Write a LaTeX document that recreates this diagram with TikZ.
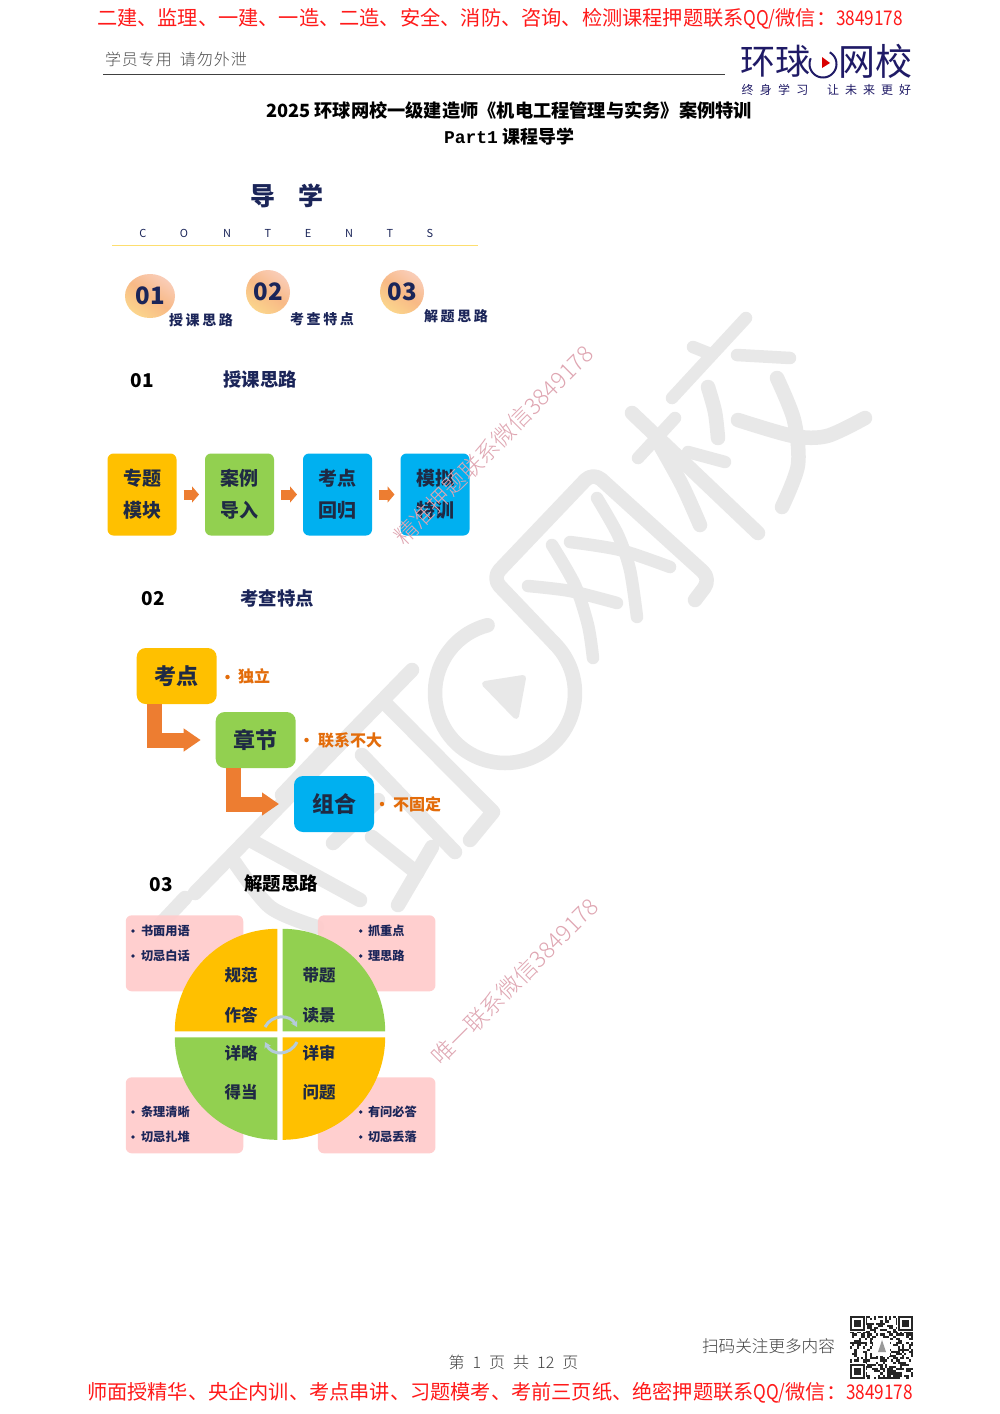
\documentclass[tikz,border=0pt]{standalone}
\usepackage{fontspec}
\usepackage{graphicx}
\usetikzlibrary{arrows.meta,shapes.geometric,calc}
\setmainfont{Noto Sans CJK SC}
\newfontfamily\lightcjk{Noto Sans CJK SC Light}
\newfontfamily\latn{Liberation Mono}
\definecolor{navy}{HTML}{1B2559}
\definecolor{logonavy}{HTML}{1F1A66}
\definecolor{ink}{HTML}{1F2A44}
\definecolor{redtxt}{HTML}{FF1A1A}
\definecolor{wmgray}{HTML}{E8E8E8}
\definecolor{wmpink}{HTML}{DFA6B2}
\definecolor{yel}{HTML}{FFC000}
\definecolor{grn}{HTML}{92D050}
\definecolor{blu}{HTML}{00B0F0}
\definecolor{org}{HTML}{ED7D31}
\definecolor{orgt}{HTML}{E36C0A}
\definecolor{pinkbox}{HTML}{FFCCCC}
\definecolor{swirl}{HTML}{B5CBDC}
\definecolor{ballA}{HTML}{F9CDB8}
\definecolor{ballB}{HTML}{F8B986}
\definecolor{ballC}{HTML}{FBD58C}
\newcommand{\fs}[1]{\fontsize{#1}{#1}\selectfont}
\newcommand{\lat}[1]{\scalebox{0.85}[1]{#1}}
\tikzset{
  lbl/.style={inner sep=0pt,outer sep=0pt},
  wm/.style={draw=wmgray,line width=14.5pt,line cap=round,line join=round},
  wmthin/.style={wm,line width=12.5pt},
  flowbox/.style={lbl,rounded corners=6pt,minimum width=69pt,minimum height=82pt,align=center,text=ink,font=\fontsize{19}{32}\selectfont\bfseries},
  stepbox/.style={lbl,rounded corners=9pt,minimum width=80pt,minimum height=56pt,text=ink,font=\fs{22}\bfseries},
  smallarrow/.style={draw=org,line width=10pt,-{Triangle[width=16pt,length=7pt]},shorten <=7pt,shorten >=6pt},
  elbow/.style={draw=org,line width=15pt,line join=miter,-{Triangle[width=22pt,length=17pt]},shorten >=15pt},
  note/.style={lbl,text=orgt,font=\fs{16}\bfseries,anchor=west},
  dotmark/.style={circle,inner sep=0pt,minimum size=4.5pt},
  pinkpanel/.style={lbl,fill=pinkbox,fill opacity=.93,rounded corners=6pt,minimum width=117.5pt,minimum height=76pt},
  pietxt/.style={lbl,text=ink,font=\fs{16.5}\bfseries},
  itemtxt/.style={lbl,text=navy,font=\fs{12.2}\bfseries,anchor=west},
  section/.style={lbl,font=\fs{18.4}\bfseries,text=navy},
  secnum/.style={lbl,font=\fs{19}\bfseries,text=black},
  ctt/.style={lbl,font=\fs{11},text=navy},
  ball/.style={lbl,ellipse,minimum height=44pt,top color=ballA,bottom color=ballC,middle color=ballB,shading angle=-35,text=navy,font=\fs{24}\bfseries},
  spaced/.style={lbl,text=navy,font=\fs{14}\bfseries\addfontfeature{LetterSpace=19}},
  swirlarc/.style={draw=swirl,line width=3pt,-{Stealth[length=6pt,width=7pt]}},
}
\begin{document}
\begin{tikzpicture}[x=1pt,y=-1pt]
\useasboundingbox (0,0) rectangle (1000,1414);
\fill[white] (0,0) rectangle (1000,1414);
% ---- gray logo watermark
\draw[wmthin] (746,318) -- (672,398);
\draw[wmthin] (693,347) -- (708,353);
\draw[wmthin] (737,355) -- (790,358);
\draw[wm] plot[smooth] coordinates {(777,378) (794,420) (798,465) (782,507)};
\draw[wm] plot[smooth] coordinates {(738,420) (793,436) (827,436) (865,418)};
\draw[wm] plot[smooth] coordinates {(708,387) (715,412) (718,438)};
\draw[wm] (632,413) -- (758,533);
\draw[wmthin] (675,418) -- (638,458);
\draw[wm] plot[smooth] coordinates {(657,440) (682,485) (700,525)};
\draw[wmthin] (688,452) -- (725,462);
\draw[wm,rounded corners=11pt] (695,600) -- (711,579) -- (593,472) -- (492,578) -- (554.5,643.5);
\draw[wm] plot[domain=255.6:-45,samples=70] ({505+70*cos(\x)},{693+70*sin(\x)});
\fill[wmgray,draw=wmgray,line width=6pt,line join=round] (485,684) -- (523,678) -- (516,716) -- cycle;
\draw[wmthin] plot[smooth] coordinates {(597,498) (618,535) (630,570) (637,617)};
\draw[wmthin] plot[smooth] coordinates {(570,542) (620,550) (670,567)};
\draw[wmthin] plot[smooth] coordinates {(552,545) (575,585) (588,625) (593,658)};
\draw[wmthin] plot[smooth] coordinates {(528,586) (570,591) (617,603)};
\draw[wm] (412,670) -- (195,893);
\draw[wm] (387,705) -- (493,812) -- (470,840);
\draw[wm] (362,755) -- (455,852);
\draw[wm] (323,752) -- (282,795);
\draw[wm] (333,843) -- (378,800);
\draw[wm] (372,837) -- (417,873);
\draw[wm] (432,847) -- (398,905);
\draw[wm] plot[smooth] coordinates {(233,860) (270,907) (317,927)};
\draw[wm] (250,840) -- (360,900);
\draw[wm] (185,898) -- (155,930);
% ---- header
\node[lbl,anchor=west,text=redtxt] (redtop) at (97,19) {\resizebox{806pt}{!}{\fs{20}二建、监理、一建、一造、二造、安全、消防、咨询、检测课程押题联系\lat{QQ/}微信：\lat{3849178}}};
\node[lbl,anchor=west,text=black!70,font=\lightcjk\fs{16}\addfontfeature{LetterSpace=6}] (staff) at (105,59) {学员专用\hspace{8pt}请勿外泄};
\draw[black!75,line width=1pt] (103,74.5) -- (725,74.5);
\node[lbl,text=logonavy,font=\fs{35}] (logoa) at (775,61) {环球};
\node[lbl,text=logonavy,font=\fs{37}] (logob) at (875,61) {网校};
\draw[logonavy,line width=2pt] plot[domain=205:-60,samples=40] ({823+13.5*cos(\x)},{64+13.5*sin(\x)});
\fill[red!85!black] (822,57) -- (830,63) -- (822,68) -- cycle;
\node[lbl,text=logonavy,font=\fs{12}\addfontfeature{LetterSpace=52}] (sloga) at (775,90) {终身学习};
\node[lbl,text=logonavy,font=\fs{12}\addfontfeature{LetterSpace=50}] (slogb) at (869,90) {让未来更好};
\node[lbl,text=black] (title) at (509,110) {\resizebox{486pt}{!}{\fs{18}\bfseries 2025 环球网校一级建造师《机电工程管理与实务》案例特训}};
\node[lbl,text=black] (subtitle) at (509,137) {\resizebox{130pt}{!}{\fs{18}\bfseries{\latn Part1} 课程导学}};
% ---- contents
\node[lbl,text=navy,font=\fs{25}\bfseries] (dao) at (263,196) {导};
\node[lbl,text=navy,font=\fs{25}\bfseries] (xue) at (311,196) {学};
\node[ctt] (c1) at (143,233) {C};
\node[ctt] (c2) at (184,233) {O};
\node[ctt] (c3) at (227,233) {N};
\node[ctt] (c4) at (268,233) {T};
\node[ctt] (c5) at (308,233) {E};
\node[ctt] (c6) at (349,233) {N};
\node[ctt] (c7) at (390,233) {T};
\node[ctt] (c8) at (430,233) {S};
\draw[yellow!60!orange!55,line width=1pt] (112,245.5) -- (478,245.5);
\node[ball,minimum width=50pt] (ball1) at (150,296) {01};
\node[ball,minimum width=44pt] (ball2) at (268,292) {02};
\node[ball,minimum width=44pt] (ball3) at (402,292) {03};
\node[spaced] (l1) at (201,320) {授课思路};
\node[spaced] (l2) at (322,319) {考查特点};
\node[spaced] (l3) at (456,316) {解题思路};
% ---- section 1
\node[secnum] (n1) at (142,381) {01};
\node[section] (h1) at (260,380) {授课思路};
\node[flowbox,fill=yel] (f1) at (142,494.5) {专题\\模块};
\node[flowbox,fill=grn] (f2) at (239.5,494.5) {案例\\导入};
\node[flowbox,fill=blu] (f3) at (337.5,494.5) {考点\\回归};
\node[flowbox,fill=blu] (f4) at (435,494.5) {模拟\\特训};
\draw[smallarrow] (f1.east) -- (f2.west);
\draw[smallarrow] (f2.east) -- (f3.west);
\draw[smallarrow] (f3.east) -- (f4.west);
% ---- section 2
\node[secnum] (n2) at (153,599) {02};
\node[section] (h2) at (277,598) {考查特点};
\node[stepbox,fill=yel] (s1) at (176.7,676) {考点};
\node[stepbox,fill=grn] (s2) at (255.7,740) {章节};
\node[stepbox,fill=blu] (s3) at (334,804) {组合};
\draw[elbow] ($(s1.south west)+(17.5,0)$) |- (s2.west);
\draw[elbow] ($(s2.south west)+(17.5,0)$) |- (s3.west);
\node[dotmark,fill=orgt] (d1) at (227.5,677) {};
\node[note] (t1) at (238,676) {独立};
\node[dotmark,fill=orgt] (d2) at (306.5,740) {};
\node[note] (t2) at (318,740) {联系不大};
\node[dotmark,fill=orgt] (d3) at (382,804) {};
\node[note] (t3) at (393,804) {不固定};
% ---- section 3
\node[secnum] (n3) at (161,885) {03};
\node[section,text=black] (h3) at (281,884) {解题思路};
\node[pinkpanel] (p1) at (184.5,953.3) {};
\node[pinkpanel] (p2) at (376.7,953.3) {};
\node[pinkpanel] (p3) at (184.5,1115.3) {};
\node[pinkpanel] (p4) at (376.7,1115.3) {};
\fill[yel] (277.3,1031.3) -- plot[domain=180:270,samples=40] ({277.3+102.5*cos(\x)},{1031.3+102.5*sin(\x)}) -- cycle;
\fill[grn] (282.7,1031.3) -- plot[domain=270:360,samples=40] ({282.7+102.5*cos(\x)},{1031.3+102.5*sin(\x)}) -- cycle;
\fill[grn] (277.3,1037.3) -- plot[domain=90:180,samples=40] ({277.3+102.5*cos(\x)},{1037.3+102.5*sin(\x)}) -- cycle;
\fill[yel] (282.7,1037.3) -- plot[domain=0:90,samples=40] ({282.7+102.5*cos(\x)},{1037.3+102.5*sin(\x)}) -- cycle;
\coordinate (sw1) at (265,1027);
\coordinate (sw2) at (297,1027);
\coordinate (sw3) at (297,1042);
\coordinate (sw4) at (265,1042);
\draw[swirlarc] (sw1) .. controls (272,1014) and (290,1014) .. (sw2);
\draw[swirlarc] (sw3) .. controls (290,1056) and (272,1056) .. (sw4);
\node[pietxt] (q1) at (241,975) {规范};
\node[pietxt] (q2) at (241,1015) {作答};
\node[pietxt] (q3) at (319,975) {带题};
\node[pietxt] (q4) at (319,1015) {读景};
\node[pietxt] (q5) at (241,1053) {详略};
\node[pietxt] (q6) at (241,1092) {得当};
\node[pietxt] (q7) at (319,1053) {详审};
\node[pietxt] (q8) at (319,1092) {问题};
\foreach \nm/\x/\y in {a/133/931,b/133/956,c/360.7/931,d/360.7/956,e/133/1112,f/133/1137,g/360.7/1112,h/360.7/1137}
  \node[dotmark,minimum size=3.8pt,fill=navy] (dot\nm) at (\x,\y) {};
\node[itemtxt] (i1) at (141,931) {书面用语};
\node[itemtxt] (i2) at (141,956) {切忌白话};
\node[itemtxt] (i3) at (368,931) {抓重点};
\node[itemtxt] (i4) at (368,956) {理思路};
\node[itemtxt] (i5) at (141,1112) {条理清晰};
\node[itemtxt] (i6) at (141,1137) {切忌扎堆};
\node[itemtxt] (i7) at (368,1112) {有问必答};
\node[itemtxt] (i8) at (368,1137) {切忌丢落};
% ---- pink diagonal marks
\node[lbl,rotate=45,text=wmpink,font=\lightcjk\fs{23}] (pw1) at (493.5,445) {精准押题联系微信3849178};
\node[lbl,rotate=45,text=wmpink,font=\lightcjk\fs{23}] (pw2) at (515,981.5) {唯一联系微信3849178};
% ---- footer
\node[lbl,text=black!75,font=\lightcjk\fs{16}] (page) at (513.5,1362) {第\hspace{8pt}1\hspace{8pt}页\hspace{8pt}共\hspace{8pt}12\hspace{8pt}页};
\node[lbl,text=black!75,font=\lightcjk\fs{16.6}] (scan) at (768.5,1346) {扫码关注更多内容};
\node[lbl,anchor=west,text=redtxt] (redbot) at (87,1393) {\resizebox{826pt}{!}{\fs{20}师面授精华、央企内训、考点串讲、习题模考、考前三页纸、绝密押题联系\lat{QQ/}微信：\lat{3849178}}};
% ---- QR
\pgfmathsetseed{4217}
\foreach \i in {0,...,28}{
  \foreach \j in {0,...,28}{
    \pgfmathparse{rnd<0.5?1:0}
    \ifnum\pgfmathresult=1
      \fill[black!85] ({850+\i*2.172},{1316+\j*2.172}) rectangle ++(2.172,2.172);
    \fi
  }
}
\foreach \cx/\cy in {850/1316,897.8/1316,850/1363.8}{
  \fill[white] (\cx-1,\cy-1) rectangle ++(17.2,17.2);
  \fill[black!85] (\cx,\cy) rectangle ++(15.2,15.2);
  \fill[white] (\cx+2.2,\cy+2.2) rectangle ++(10.8,10.8);
  \fill[black!85] (\cx+4.3,\cy+4.3) rectangle ++(6.6,6.6);
}
\fill[white] (873,1338) rectangle (890,1356);
\fill[black!40] (878,1352) -- (882,1340) -- (886,1352) -- cycle;
\end{tikzpicture}
\end{document}
